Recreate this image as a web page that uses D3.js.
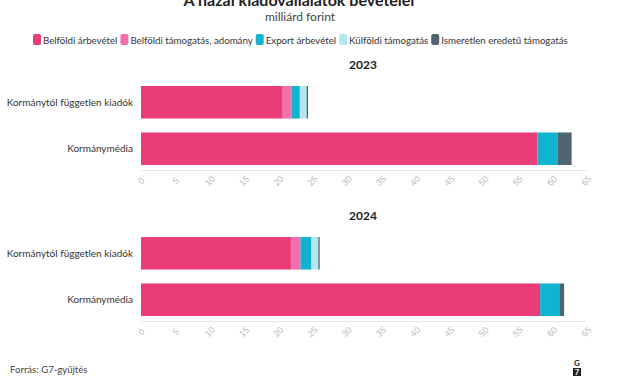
<!DOCTYPE html>
<html><head><meta charset="utf-8">
<script src="https://cdn.jsdelivr.net/npm/d3@7"></script>
<style>body{margin:0;background:#fff;}svg{display:block;font-family:"Source Sans Pro","Lato","Open Sans",sans-serif;}</style>
</head><body>
<script>
const categories = ["Kormánytól független kiadók", "Kormánymédia"];
const years = ["2023", "2024"];
const seriesNames = ["Belföldi árbevétel", "Belföldi támogatás, adomány", "Export árbevétel", "Külföldi támogatás", "Ismeretlen eredetű támogatás"];
const colors = ["#ea3d77", "#f56fad", "#10b4cf", "#b3e7f0", "#4f6672"];
// values per year: [independent, government] for each series
const belfoldiArbevetel = {"2023": [20.7, 57.9], "2024": [21.9, 58.3]};
const belfoldiTamogatas = {"2023": [1.3, 0.0], "2024": [1.4, 0.0]};
const exportArbevetel = {"2023": [1.2, 3.0], "2024": [1.6, 2.8]};
const kulfoldiTamogatas = {"2023": [1.0, 0.0], "2024": [1.0, 0.0]};
const ismeretlenTamogatas = {"2023": [0.2, 2.0], "2024": [0.2, 0.7]};
const tickValues = [0,5,10,15,20,25,30,35,40,45,50,55,60,65];

const seriesData = [belfoldiArbevetel, belfoldiTamogatas, exportArbevetel, kulfoldiTamogatas, ismeretlenTamogatas];

const W = 627, H = 376;
const svg = d3.select("body").append("svg").attr("width", W).attr("height", H);

svg.append("text").attr("x", 299).attr("y", 6).attr("text-anchor", "middle")
  .attr("font-size", 16).attr("font-weight", 700).attr("fill", "#222").text("A hazai kiadóvállalatok bevételei");
svg.append("text").attr("x", 300).attr("y", 21).attr("text-anchor", "middle")
  .attr("font-size", 12).attr("fill", "#444").text("milliárd forint");

// legend
const legend = svg.append("g");
let lx = 33;
seriesNames.forEach((n, i) => {
  const g = legend.append("g").attr("transform", `translate(${lx},0)`);
  g.append("rect").attr("x", 0).attr("y", 34).attr("width", 8).attr("height", 11).attr("rx", 2).attr("fill", colors[i]);
  const t = g.append("text").attr("x", 10).attr("y", 43.5).attr("font-size", 9.7).attr("fill", "#333").text(n);
  lx += 10 + t.node().getComputedTextLength() + 3;
});

const x = d3.scaleLinear().domain([0, 65]).range([141, 586]);
const panels = [{year: "2023", top: 86, head: 69}, {year: "2024", top: 237, head: 220}];

panels.forEach(p => {
  const g = svg.append("g");
  g.append("text").attr("x", 363).attr("y", p.head).attr("text-anchor", "middle")
    .attr("font-size", 12).attr("font-weight", 700).attr("fill", "#222").text(p.year);
  const y = d3.scaleBand().domain(categories).range([p.top, p.top + 79]).paddingInner(0.3).paddingOuter(0);
  categories.forEach((c, ci) => {
    let acc = 0;
    seriesData.forEach((s, si) => {
      const v = s[p.year][ci];
      if (v > 0) {
        g.append("rect").attr("x", x(acc)).attr("y", y(c)).attr("width", x(acc + v) - x(acc))
          .attr("height", y.bandwidth()).attr("fill", colors[si]);
      }
      acc += v;
    });
    g.append("text").attr("x", 133).attr("y", y(c) + y.bandwidth() / 2 + 3.5).attr("text-anchor", "end")
      .attr("font-size", 10).attr("fill", "#333").text(c);
  });
  const axisY = p.top + 84;
  const ax = g.append("g").attr("transform", `translate(0,${axisY})`)
    .call(d3.axisBottom(x).tickValues(tickValues).tickSize(0).tickPadding(0));
  ax.select(".domain").attr("stroke", "#e6e6e6");
  ax.selectAll(".tick text").attr("fill", "#bbb").attr("font-size", 9).attr("text-anchor", "middle")
    .attr("transform", "translate(0,11) rotate(-45)").attr("dy", "0.32em").attr("y", 0);
});

svg.append("text").attr("x", 10).attr("y", 373).attr("font-size", 9.6).attr("fill", "#444").text("Forrás: G7-gyűjtés");
svg.append("text").attr("x", 577).attr("y", 366).attr("text-anchor", "middle").attr("font-size", 8).attr("font-weight", 700).attr("fill", "#222").text("G");
svg.append("rect").attr("x", 573).attr("y", 368).attr("width", 8).attr("height", 8).attr("fill", "#222");
svg.append("text").attr("x", 577).attr("y", 375).attr("text-anchor", "middle").attr("font-size", 7.5).attr("font-weight", 700).attr("fill", "#fff").text("7");
</script>
</body></html>
